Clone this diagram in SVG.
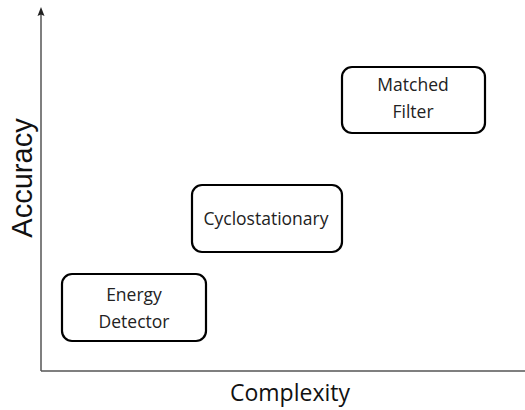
<svg xmlns="http://www.w3.org/2000/svg" width="525" height="410" viewBox="0 0 525 410">
  <defs>
    <style>
      .axis { stroke: #555; stroke-width: 1.5; fill: none; }
      .head { fill: #222; }
      .box { fill: #fff; stroke: #000; stroke-width: 2.2; }
      .lbl { font-family: "Open Sans", "Noto Sans", sans-serif; font-size: 17.5px; fill: #222; text-anchor: middle; }
      .title { font-family: "Open Sans", "Noto Sans", sans-serif; font-size: 23px; fill: #111; text-anchor: middle; }
      .ytitle { font-family: "Liberation Sans", Arial, sans-serif; font-size: 29px; fill: #111; text-anchor: middle; }
    </style>
  </defs>
  <rect width="525" height="410" fill="#fff"/>

  <!-- axes -->
  <g id="connectors">
    <line class="axis" x1="41" y1="371" x2="41" y2="14"/>
    <path class="head" d="M41,7 L44.5,16 L41,14.5 L37.5,16 Z"/>
    <line class="axis" x1="41" y1="371" x2="525" y2="371"/>
  </g>

  <text class="ytitle" transform="translate(32,178) rotate(-90)">Accuracy</text>
  <text class="title" x="290" y="401">Complexity</text>

  <g id="energy-detector">
    <rect class="box" x="62" y="274" width="144" height="67" rx="10"/>
    <text class="lbl" x="134" y="301">Energy</text>
    <text class="lbl" x="134" y="328">Detector</text>
  </g>

  <g id="cyclostationary">
    <rect class="box" x="192" y="185" width="150" height="67" rx="10"/>
    <text class="lbl" x="266" y="225">Cyclostationary</text>
  </g>

  <g id="matched-filter">
    <rect class="box" x="342" y="67" width="143" height="66" rx="10"/>
    <text class="lbl" x="413" y="91">Matched</text>
    <text class="lbl" x="413" y="118">Filter</text>
  </g>
</svg>
